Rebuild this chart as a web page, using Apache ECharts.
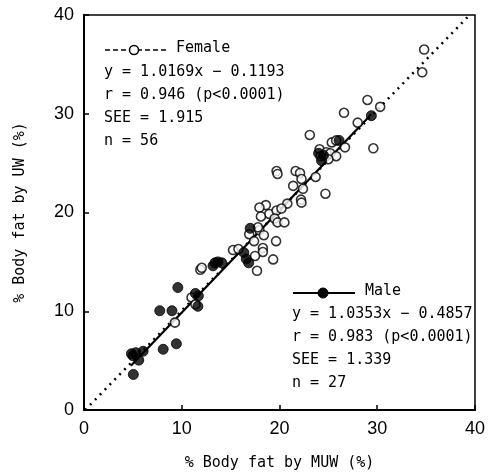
<!DOCTYPE html>
<html><head><meta charset="utf-8">
<script src="https://cdn.jsdelivr.net/npm/echarts@6/dist/echarts.min.js"></script>
<style>html,body{margin:0;padding:0;background:#fff}#c{width:488px;height:476px}</style>
</head><body><div id="c"></div>
<script>
var xTicks = [0, 10, 20, 30, 40];
var yTicks = [0, 10, 20, 30, 40];
var femaleX = [34.8,34.6,29.0,30.3,28.0,26.6,29.6,23.1,24.1,25.35,25.8,26.7,24.8,25.2,25.8,24.2,24.7,19.7,19.8,21.65,22.1,22.25,23.7,21.4,22.4,22.2,22.25,20.8,18.6,17.95,18.95,19.7,18.1,19.5,19.8,20.5,17.95,16.9,18.4,17.4,19.65,15.25,15.8,18.3,18.3,17.5,19.35,17.7,11.9,12.05,11.0,11.4,9.3,17.8,25.0,20.2];
var femaleY = [36.5,34.2,31.4,30.7,29.1,30.1,26.5,27.85,26.4,27.1,27.3,26.6,26.1,26.0,25.7,25.7,21.9,24.2,23.9,24.2,24.0,23.4,23.6,22.7,22.4,21.3,21.0,20.9,20.75,20.5,19.85,20.2,19.6,19.4,19.0,19.0,18.2,17.8,17.7,17.1,17.1,16.2,16.3,16.4,16.0,15.6,15.25,14.1,14.2,14.4,11.4,10.7,8.85,18.5,25.4,20.4];
var maleX = [29.4,26.1,24.0,24.3,17.0,16.35,16.6,16.85,13.2,13.7,14.1,9.6,11.4,11.7,11.65,7.75,9.0,9.45,8.1,4.85,5.3,6.05,5.6,5.05,5.0,24.5,13.4];
var maleY = [29.8,27.3,26.0,25.25,18.4,15.95,15.3,14.9,14.6,15.0,14.9,12.4,11.8,11.55,10.5,10.05,10.05,6.7,6.15,5.7,5.8,5.95,5.05,3.6,5.5,25.8,14.9];
var femaleFit = {slope: 1.0169, intercept: -0.1193, xFrom: 0.12, xTo: 39.45};
var maleFit = {slope: 1.0353, intercept: -0.4857, xFrom: 4.8, xTo: 29.4};
var femaleText = ["y = 1.0169x \u2212 0.1193", "r = 0.946 (p<0.0001)", "SEE = 1.915", "n = 56"];
var maleText = ["y = 1.0353x \u2212 0.4857", "r = 0.983 (p<0.0001)", "SEE = 1.339", "n = 27"];

function pairs(xs, ys){ return xs.map(function(x,i){ return [x, ys[i]]; }); }
function fitLine(f){ return [[f.xFrom, f.slope*f.xFrom+f.intercept],[f.xTo, f.slope*f.xTo+f.intercept]]; }

var mono = '"DejaVu Sans Mono", "Liberation Mono", monospace';
var tickFont = '"Liberation Sans Narrow", "Liberation Sans", sans-serif';
var chart = echarts.init(document.getElementById('c'));
var graphics = [];
graphics.push({type:'line', shape:{x1:105,y1:50,x2:166,y2:50}, style:{stroke:'#000', lineWidth:1.5, lineDash:[5,3]}, z:10});
graphics.push({type:'circle', shape:{cx:134,cy:50,r:4.5}, style:{fill:'#fff', stroke:'#000', lineWidth:1.5}, z:11});
graphics.push({type:'text', left:176, top:41, style:{text:'Female', font:'15px '+mono, fill:'#000'}, z:11});
femaleText.forEach(function(t,i){
  graphics.push({type:'text', left:104, top:65+i*23, style:{text:t, font:'15px '+mono, fill:'#000'}, z:11});
});
graphics.push({type:'line', shape:{x1:293,y1:293,x2:355,y2:293}, style:{stroke:'#000', lineWidth:2}, z:10});
graphics.push({type:'circle', shape:{cx:323,cy:293,r:5}, style:{fill:'#000', stroke:'#000', lineWidth:1}, z:11});
graphics.push({type:'text', left:365, top:284, style:{text:'Male', font:'15px '+mono, fill:'#000'}, z:11});
maleText.forEach(function(t,i){
  graphics.push({type:'text', left:292, top:307+i*23, style:{text:t, font:'15px '+mono, fill:'#000'}, z:11});
});

chart.setOption({
  animation:false,
  backgroundColor:'#fff',
  grid:{left:84, right:9, top:15, bottom:66, show:true, borderColor:'#000', borderWidth:1.5, backgroundColor:'transparent'},
  xAxis:{type:'value', min:xTicks[0], max:xTicks[xTicks.length-1], interval:10,
    name:'% Body fat by MUW (%)', nameLocation:'middle', nameGap:46,
    nameTextStyle:{fontFamily:mono, fontSize:15, color:'#000'},
    axisLine:{lineStyle:{color:'#000', width:2}},
    axisTick:{inside:true, length:5, lineStyle:{color:'#000', width:1.5}},
    axisLabel:{fontFamily:tickFont, fontSize:18, color:'#000', margin:10},
    splitLine:{show:false}},
  yAxis:{type:'value', min:yTicks[0], max:yTicks[yTicks.length-1], interval:10,
    name:'% Body fat by UW (%)', nameLocation:'middle', nameGap:56, nameRotate:90,
    nameTextStyle:{fontFamily:mono, fontSize:15, color:'#000'},
    axisLine:{lineStyle:{color:'#000', width:2}},
    axisTick:{inside:true, length:5, lineStyle:{color:'#000', width:1.5}},
    axisLabel:{fontFamily:tickFont, fontSize:18, color:'#000', margin:10},
    splitLine:{show:false}},
  series:[
    {type:'line', data:fitLine(femaleFit), showSymbol:false, symbol:'none', lineStyle:{color:'#000', width:2.5, type:[2,5]}, z:2},
    {type:'line', data:fitLine(maleFit), showSymbol:false, symbol:'none', lineStyle:{color:'#000', width:2.2}, z:3},
    {type:'scatter', data:pairs(femaleX, femaleY), symbol:'circle', symbolSize:9, itemStyle:{color:'#fff', borderColor:'#000', borderWidth:1.6}, z:4},
    {type:'scatter', data:pairs(maleX, maleY), symbol:'circle', symbolSize:10, itemStyle:{color:'#000', borderColor:'#000', borderWidth:1}, z:5}
  ],
  graphic:graphics
});
</script></body></html>
